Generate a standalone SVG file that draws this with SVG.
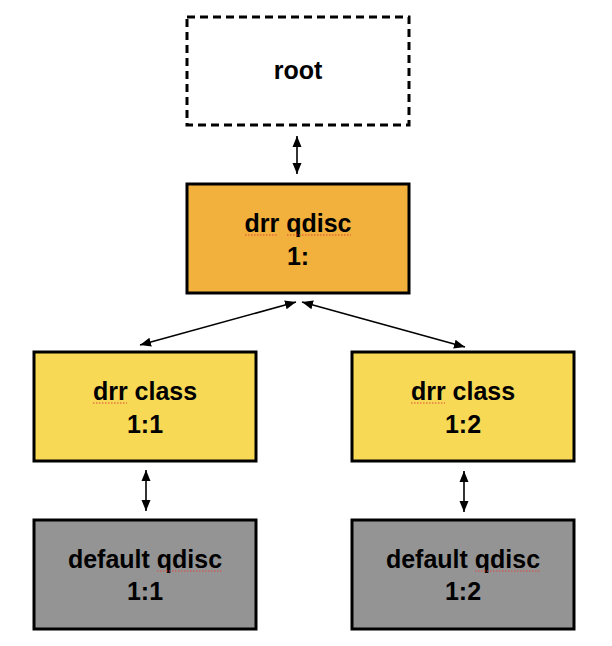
<svg xmlns="http://www.w3.org/2000/svg" width="612" height="646" viewBox="0 0 612 646">
<defs>
<marker id="ah" viewBox="0 0 11 10" refX="11" refY="5" markerWidth="11" markerHeight="10" markerUnits="userSpaceOnUse" orient="auto-start-reverse">
<path d="M0,0.5 L11,5 L0,9.5 Z" fill="#000"/>
</marker>
</defs>
<style>
.box{stroke:#000;stroke-width:3}
.root{fill:#fff;stroke:#000;stroke-width:3;stroke-dasharray:8 5}
.qdisc{fill:#F2B13D}
.cls{fill:#F8D956}
.def{fill:#949494}
.t{font-family:"Liberation Sans",Arial,Helvetica,sans-serif;font-size:25px;font-weight:bold;fill:#000;text-anchor:middle}
.sq{stroke:#E0473C;stroke-width:1.2;stroke-dasharray:1.5 1.5;fill:none}
.c{stroke:#000;stroke-width:1.6;fill:none;marker-start:url(#ah);marker-end:url(#ah)}
</style>
<rect width="612" height="646" fill="#fff"/>
<g id="connectors">
<line class="c" x1="297" y1="136" x2="297" y2="174"/>
<line class="c" x1="296" y1="302" x2="140" y2="345"/>
<line class="c" x1="302" y1="302" x2="465" y2="347"/>
<line class="c" x1="146" y1="470" x2="146" y2="511"/>
<line class="c" x1="464" y1="471" x2="464" y2="512"/>
</g>
<g id="root">
<rect class="root" x="187" y="17" width="222" height="108"/>
<text class="t" x="298" y="79">root</text>
</g>
<g id="drr-qdisc">
<rect class="box qdisc" x="187" y="184" width="222" height="109"/>
<text class="t" x="298" y="232">drr qdisc</text>
<text class="t" x="298" y="265">1:</text>
<line class="sq" x1="245" y1="235" x2="278" y2="235"/>
<line class="sq" x1="287" y1="235" x2="351" y2="235"/>
</g>
<g id="drr-class-1-1">
<rect class="box cls" x="34" y="352" width="222" height="109"/>
<text class="t" x="145" y="400">drr class</text>
<text class="t" x="145" y="433">1:1</text>
<line class="sq" x1="93" y1="403" x2="127" y2="403"/>
</g>
<g id="drr-class-1-2">
<rect class="box cls" x="352" y="352" width="222" height="109"/>
<text class="t" x="463" y="400">drr class</text>
<text class="t" x="463" y="433">1:2</text>
<line class="sq" x1="411" y1="403" x2="445" y2="403"/>
</g>
<g id="default-qdisc-1-1">
<rect class="box def" x="34" y="520" width="222" height="109"/>
<text class="t" x="145" y="568">default qdisc</text>
<text class="t" x="145" y="600">1:1</text>
<line class="sq" x1="157" y1="571" x2="222" y2="571"/>
</g>
<g id="default-qdisc-1-2">
<rect class="box def" x="352" y="520" width="222" height="109"/>
<text class="t" x="463" y="568">default qdisc</text>
<text class="t" x="463" y="600">1:2</text>
<line class="sq" x1="475" y1="571" x2="540" y2="571"/>
</g>
</svg>
